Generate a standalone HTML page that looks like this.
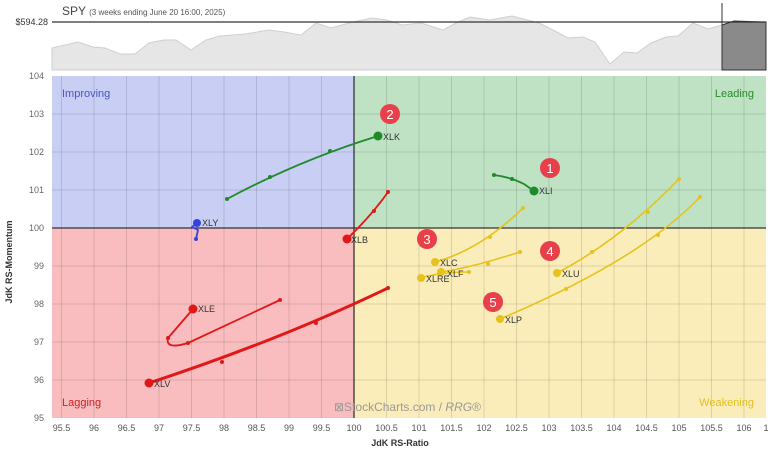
<!DOCTYPE html>
<html><head><meta charset="utf-8"><style>
html,body{margin:0;padding:0;background:#fff;}
svg{display:block;font-family:"Liberation Sans",sans-serif;}
</style></head><body>
<svg width="768" height="449" viewBox="0 0 768 449" xmlns="http://www.w3.org/2000/svg">
<rect width="768" height="449" fill="#fff"/>
<!-- top price chart -->
<text x="62" y="15" font-size="12" fill="#444">SPY <tspan font-size="8" fill="#555">(3 weeks ending June 20 16:00, 2025)</tspan></text>
<path d="M52,48 L78,42 93,47 105,48 120,54 135,54 149,43 164,40 176,40 191,50 206,40 220,36 245,34 269,30 284,32 301,35 316,23 331,28 353,22 372,18 387,20 402,25 421,23 443,30 458,22 470,17 490,20 512,16 539,23 553,30 568,38 583,37 595,42 610,64 624,52 637,53 651,43 666,37 678,36 693,23 708,29 722,25 L722,70 L52,70 Z" fill="#e6e6e6" stroke="#cfcfcf" stroke-width="1"/>
<path d="M722,25 L734,21 764,22 L766,22 L766,70 L722,70 Z" fill="#8a8a8a" stroke="#333" stroke-width="1"/>
<line x1="52" y1="22" x2="766" y2="22" stroke="#333" stroke-width="1.2"/>
<line x1="722" y1="3" x2="722" y2="70" stroke="#333" stroke-width="1"/>
<text x="48" y="25" font-size="9" fill="#333" text-anchor="end">$594.28</text>
<!-- quadrants -->
<rect x="52" y="76" width="302" height="152" fill="#c9cef4"/>
<rect x="354" y="76" width="412" height="152" fill="#bfe2c4"/>
<rect x="52" y="228" width="302" height="190" fill="#f9bdbf"/>
<rect x="354" y="228" width="412" height="190" fill="#fbedb9"/>
<g stroke="#000" stroke-opacity="0.12" stroke-width="1">
<line x1="61.5" y1="76" x2="61.5" y2="418"/><line x1="94" y1="76" x2="94" y2="418"/><line x1="126.5" y1="76" x2="126.5" y2="418"/><line x1="159" y1="76" x2="159" y2="418"/><line x1="191.5" y1="76" x2="191.5" y2="418"/><line x1="224" y1="76" x2="224" y2="418"/><line x1="256.5" y1="76" x2="256.5" y2="418"/><line x1="289" y1="76" x2="289" y2="418"/><line x1="321.5" y1="76" x2="321.5" y2="418"/>
<line x1="386.5" y1="76" x2="386.5" y2="418"/><line x1="419" y1="76" x2="419" y2="418"/><line x1="451.5" y1="76" x2="451.5" y2="418"/><line x1="484" y1="76" x2="484" y2="418"/><line x1="516.5" y1="76" x2="516.5" y2="418"/><line x1="549" y1="76" x2="549" y2="418"/><line x1="581.5" y1="76" x2="581.5" y2="418"/><line x1="614" y1="76" x2="614" y2="418"/><line x1="646.5" y1="76" x2="646.5" y2="418"/><line x1="679" y1="76" x2="679" y2="418"/><line x1="711.5" y1="76" x2="711.5" y2="418"/><line x1="744" y1="76" x2="744" y2="418"/>
<line x1="52" y1="114" x2="766" y2="114"/><line x1="52" y1="152" x2="766" y2="152"/><line x1="52" y1="190" x2="766" y2="190"/><line x1="52" y1="266" x2="766" y2="266"/><line x1="52" y1="304" x2="766" y2="304"/><line x1="52" y1="342" x2="766" y2="342"/><line x1="52" y1="380" x2="766" y2="380"/>
</g>
<line x1="354" y1="76" x2="354" y2="418" stroke="#333" stroke-width="1.3"/>
<line x1="52" y1="228" x2="766" y2="228" stroke="#333" stroke-width="1.3"/>
<text x="62" y="97" font-size="11" fill="#4a55c0">Improving</text>
<text x="754" y="97" font-size="11" fill="#2a8a2a" text-anchor="end">Leading</text>
<text x="62" y="406" font-size="11" fill="#d02020">Lagging</text>
<text x="754" y="406" font-size="11" fill="#e0c020" text-anchor="end">Weakening</text>
<text x="334" y="411" font-size="12" fill="#999">⊠StockCharts.com / <tspan font-style="italic">RRG</tspan>®</text>
<!-- y labels -->
<g font-size="9" fill="#666" text-anchor="end">
<text x="44" y="79">104</text><text x="44" y="117">103</text><text x="44" y="155">102</text><text x="44" y="193">101</text><text x="44" y="231">100</text><text x="44" y="269">99</text><text x="44" y="307">98</text><text x="44" y="345">97</text><text x="44" y="383">96</text><text x="44" y="421">95</text>
</g>
<g font-size="9" fill="#555" text-anchor="middle">
<text x="61.5" y="431">95.5</text><text x="94" y="431">96</text><text x="126.5" y="431">96.5</text><text x="159" y="431">97</text><text x="191.5" y="431">97.5</text><text x="224" y="431">98</text><text x="256.5" y="431">98.5</text><text x="289" y="431">99</text><text x="321.5" y="431">99.5</text><text x="354" y="431">100</text><text x="386.5" y="431">100.5</text><text x="419" y="431">101</text><text x="451.5" y="431">101.5</text><text x="484" y="431">102</text><text x="516.5" y="431">102.5</text><text x="549" y="431">103</text><text x="581.5" y="431">103.5</text><text x="614" y="431">104</text><text x="646.5" y="431">104.5</text><text x="679" y="431">105</text><text x="711.5" y="431">105.5</text><text x="744" y="431">106</text><text x="766" y="431">1</text>
</g>
<text x="400" y="446" font-size="9" font-weight="bold" fill="#333" text-anchor="middle">JdK RS-Ratio</text>
<text transform="translate(12,262) rotate(-90)" font-size="9" font-weight="bold" fill="#333" text-anchor="middle">JdK RS-Momentum</text>
<!-- series -->
<g fill="none" stroke-linecap="round" stroke-linejoin="round">
<path d="M494,175 Q510,177 524,184 L534,191" stroke="#1e8a2a" stroke-width="1.8"/>
<path d="M227,199 Q300,160 378,136" stroke="#1e8a2a" stroke-width="1.8"/>
<path d="M196,239 L198,230 L192,227 L197,223" stroke="#3344dd" stroke-width="1.8"/>
<path d="M388,192 Q372,215 347,239" stroke="#e01818" stroke-width="1.8"/>
<path d="M280,300 L188,343 Q165,350 168,338 L193,309" stroke="#e01818" stroke-width="1.8"/>
<path d="M388,288 Q280,340 149,383" stroke="#e01818" stroke-width="3"/>
<path d="M523,208 Q480,250 435,262" stroke="#e6c21c" stroke-width="1.6"/>
<path d="M520,252 Q470,268 441,272" stroke="#e6c21c" stroke-width="1.6"/>
<path d="M469,272 Q440,272 421,278" stroke="#e6c21c" stroke-width="1.6"/>
<path d="M679,179 Q620,240 557,273" stroke="#e6c21c" stroke-width="1.6"/>
<path d="M700,197 Q640,260 500,319" stroke="#e6c21c" stroke-width="1.6"/>
</g>
<g>
<circle cx="534" cy="191" r="4.5" fill="#1e8a2a"/><circle cx="494" cy="175" r="2" fill="#1e8a2a"/><circle cx="512" cy="179" r="2" fill="#1e8a2a"/>
<circle cx="378" cy="136" r="4.5" fill="#1e8a2a"/><circle cx="227" cy="199" r="2" fill="#1e8a2a"/><circle cx="270" cy="177" r="2" fill="#1e8a2a"/><circle cx="330" cy="151" r="2" fill="#1e8a2a"/>
<circle cx="197" cy="223" r="4" fill="#3344dd"/><circle cx="196" cy="239" r="2" fill="#3344dd"/>
<circle cx="347" cy="239" r="4.5" fill="#e01818"/><circle cx="388" cy="192" r="2" fill="#e01818"/><circle cx="374" cy="211" r="2" fill="#e01818"/>
<circle cx="193" cy="309" r="4.5" fill="#e01818"/><circle cx="280" cy="300" r="2" fill="#e01818"/><circle cx="188" cy="343" r="2" fill="#e01818"/><circle cx="168" cy="338" r="2" fill="#e01818"/>
<circle cx="149" cy="383" r="4.5" fill="#e01818"/><circle cx="388" cy="288" r="2" fill="#e01818"/><circle cx="316" cy="323" r="2" fill="#e01818"/><circle cx="222" cy="362" r="2" fill="#e01818"/>
<circle cx="435" cy="262" r="4" fill="#e6c21c"/><circle cx="523" cy="208" r="2" fill="#e6c21c"/><circle cx="490" cy="237" r="2" fill="#e6c21c"/>
<circle cx="441" cy="272" r="4" fill="#e6c21c"/><circle cx="520" cy="252" r="2" fill="#e6c21c"/><circle cx="488" cy="264" r="2" fill="#e6c21c"/>
<circle cx="421" cy="278" r="4" fill="#e6c21c"/><circle cx="469" cy="272" r="2" fill="#e6c21c"/>
<circle cx="557" cy="273" r="4" fill="#e6c21c"/><circle cx="679" cy="179" r="2" fill="#e6c21c"/><circle cx="648" cy="212" r="2" fill="#e6c21c"/><circle cx="592" cy="252" r="2" fill="#e6c21c"/>
<circle cx="500" cy="319" r="4" fill="#e6c21c"/><circle cx="700" cy="197" r="2" fill="#e6c21c"/><circle cx="658" cy="235" r="2" fill="#e6c21c"/><circle cx="566" cy="289" r="2" fill="#e6c21c"/>
</g>
<g font-size="9" fill="#333">
<text x="539" y="194">XLI</text><text x="383" y="140">XLK</text><text x="202" y="226">XLY</text><text x="351" y="243">XLB</text><text x="198" y="312">XLE</text><text x="154" y="387">XLV</text><text x="440" y="266">XLC</text><text x="447" y="277">XLF</text><text x="426" y="282">XLRE</text><text x="562" y="277">XLU</text><text x="505" y="323">XLP</text>
</g>
<g font-size="13" fill="#fff" text-anchor="middle">
<circle cx="550" cy="168" r="10" fill="#e8404a"/><text x="550" y="173">1</text>
<circle cx="390" cy="114" r="10" fill="#e8404a"/><text x="390" y="119">2</text>
<circle cx="427" cy="239" r="10" fill="#e8404a"/><text x="427" y="244">3</text>
<circle cx="550" cy="251" r="10" fill="#e8404a"/><text x="550" y="256">4</text>
<circle cx="493" cy="302" r="10" fill="#e8404a"/><text x="493" y="307">5</text>
</g>
</svg>
</body></html>
